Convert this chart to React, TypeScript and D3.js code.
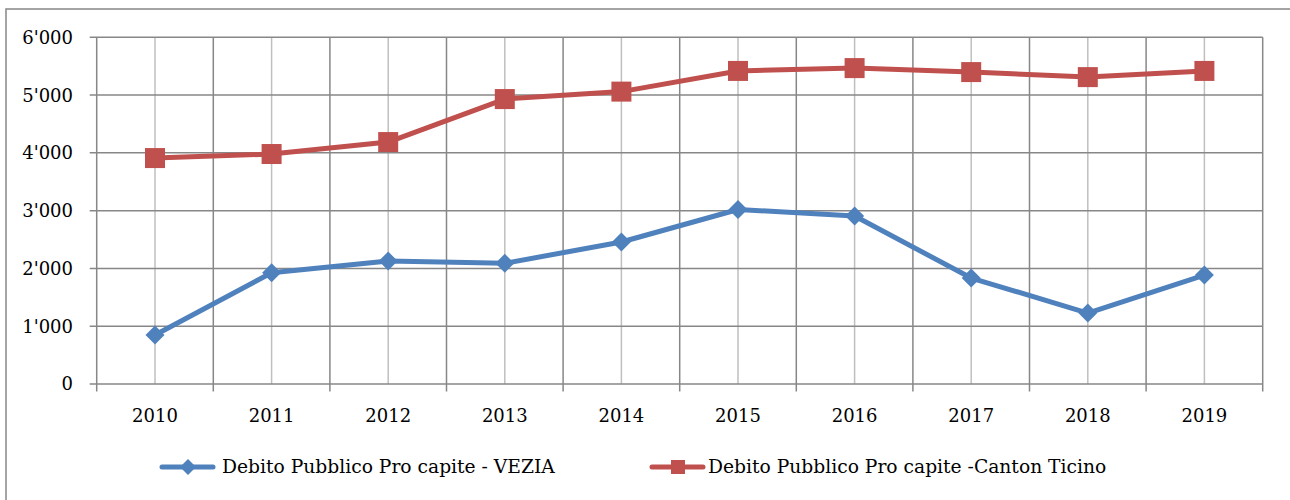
import React from "react";
import * as d3 from "d3";

const years = ["2010", "2011", "2012", "2013", "2014", "2015", "2016", "2017", "2018", "2019"];
const vezia = [848, 1926, 2127, 2089, 2457, 3020, 2907, 1834, 1228, 1886];
const ticino = [3910, 3980, 4187, 4931, 5060, 5418, 5467, 5398, 5311, 5418];
const yTicks = [0, 1000, 2000, 3000, 4000, 5000, 6000];
const seriesNames = ["Debito Pubblico Pro capite - VEZIA", "Debito Pubblico Pro capite -Canton Ticino"];

const W = 1290;
const H = 500;
const left = 96.7;
const right = 1262.7;
const top = 37.3;
const bottom = 384;
const BLUE = "#4F81BD";
const RED = "#C0504D";
const DARK = "#878787";
const LIGHT = "#BFBFBF";
const FONT = "'DejaVu Serif', serif";

const fmt = (v: number) => {
  if (v === 0) return "0";
  const s = String(v);
  return s.slice(0, s.length - 3) + "'" + s.slice(s.length - 3);
};

export default function App() {
  const x = d3.scaleBand<string>().domain(years).range([left, right]).padding(0);
  const y = d3.scaleLinear().domain([0, 6000]).range([bottom, top]);
  const cx = (yr: string) => (x(yr) as number) + x.bandwidth() / 2;
  const line = d3
    .line<number>()
    .x((_, i) => cx(years[i]))
    .y((d) => y(d));
  const boundaries = years.map((yr) => x(yr) as number).concat([right]);

  const diamond = (px: number, py: number, r: number) =>
    `M${px},${py - r}L${px + r},${py}L${px},${py + r}L${px - r},${py}Z`;

  return (
    <svg
      width={W}
      height={H}
      style={{ position: "absolute", left: 0, top: 0, background: "#fff" }}
    >
      <rect x={6} y={9} width={1400} height={700} fill="#fff" stroke={DARK} strokeWidth={1.5} />
      {years.map((yr) => (
        <line key={"c" + yr} x1={cx(yr)} x2={cx(yr)} y1={top} y2={bottom} stroke={LIGHT} strokeWidth={1.5} />
      ))}
      {boundaries.map((bx, i) => (
        <line key={"b" + i} x1={bx} x2={bx} y1={top} y2={bottom + 7.5} stroke={DARK} strokeWidth={1.5} />
      ))}
      {yTicks.map((t) => (
        <line key={"h" + t} x1={left - 7} x2={right} y1={y(t)} y2={y(t)} stroke={DARK} strokeWidth={1.5} />
      ))}
      {yTicks.map((t) => (
        <text
          key={"yl" + t}
          x={73}
          y={y(t)}
          dy="0.36em"
          textAnchor="end"
          fontFamily={FONT}
          fontSize={18}
          fill="#000"
        >
          {fmt(t)}
        </text>
      ))}
      {years.map((yr) => (
        <text
          key={"xl" + yr}
          x={cx(yr)}
          y={421.5}
          textAnchor="middle"
          fontFamily={FONT}
          fontSize={18}
          fill="#000"
        >
          {yr}
        </text>
      ))}
      <path d={line(ticino) || ""} fill="none" stroke={RED} strokeWidth={5} strokeLinejoin="round" strokeLinecap="round" />
      <path d={line(vezia) || ""} fill="none" stroke={BLUE} strokeWidth={5} strokeLinejoin="round" strokeLinecap="round" />
      {ticino.map((v, i) => (
        <rect key={"sq" + i} x={cx(years[i]) - 10} y={y(v) - 10} width={20} height={20} fill={RED} />
      ))}
      {vezia.map((v, i) => (
        <path key={"dm" + i} d={diamond(cx(years[i]), y(v), 9.5)} fill={BLUE} />
      ))}
      <line x1={162} x2={213} y1={467} y2={467} stroke={BLUE} strokeWidth={5} strokeLinecap="round" />
      <path d={diamond(188, 467, 8)} fill={BLUE} />
      <text x={222} y={473} fontFamily={FONT} fontSize={18.7} fill="#000">
        {seriesNames[0]}
      </text>
      <line x1={652} x2={703} y1={467} y2={467} stroke={RED} strokeWidth={5} strokeLinecap="round" />
      <rect x={671} y={460} width={14} height={14} fill={RED} />
      <text x={708} y={473} fontFamily={FONT} fontSize={18.7} fill="#000">
        {seriesNames[1]}
      </text>
    </svg>
  );
}
